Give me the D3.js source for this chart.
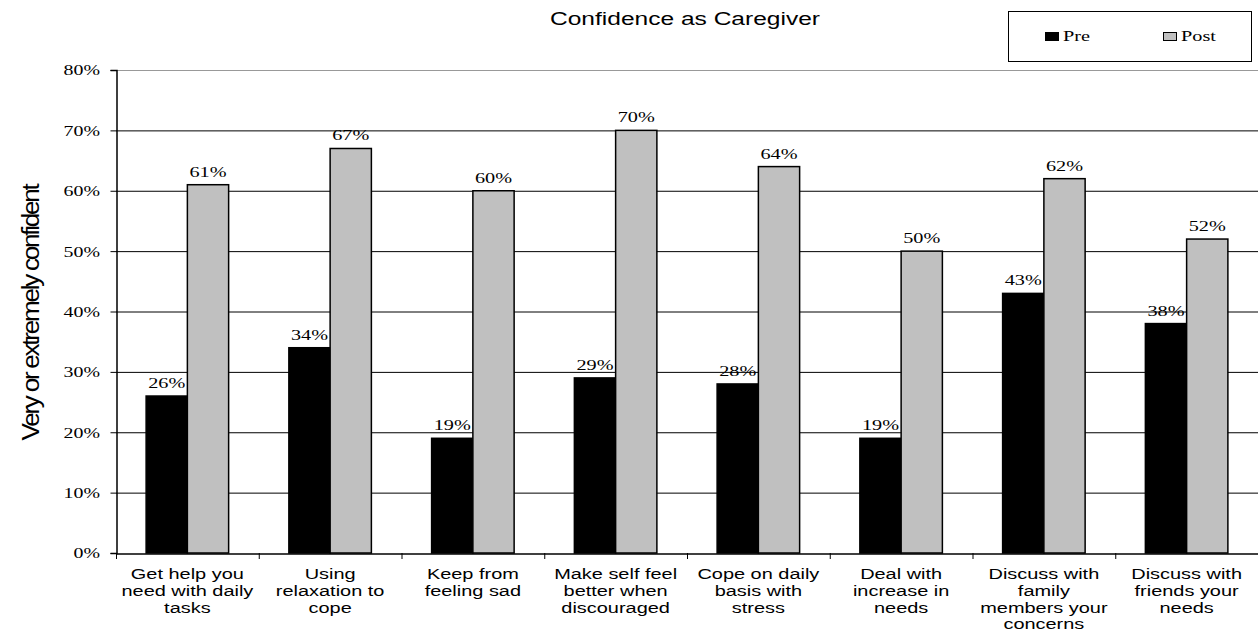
<!DOCTYPE html>
<html><head><meta charset="utf-8">
<script src="https://cdn.jsdelivr.net/npm/d3@7"></script>
<style>body{margin:0;background:#fff}svg{display:block}</style>
</head><body>
<svg id="c" width="1258" height="632"></svg>
<script>
const categories = [
  ["Get help you","need with daily","tasks"],
  ["Using","relaxation to","cope"],
  ["Keep from","feeling sad"],
  ["Make self feel","better when","discouraged"],
  ["Cope on daily","basis with","stress"],
  ["Deal with","increase in","needs"],
  ["Discuss with","family","members your","concerns"],
  ["Discuss with","friends your","needs"]
];
const seriesNames = ["Pre","Post"];
const preValues = [26,34,19,29,28,19,43,38];
const postValues = [61,67,60,70,64,50,62,52];
const yTicks = [0,10,20,30,40,50,60,70,80];
const colors = {Pre:"#000000", Post:"#c0c0c0"};

const SERIF = "'Liberation Serif','Times New Roman',serif";
const SANS = "'Liberation Sans',Arial,sans-serif";
function hStretch(sel, sx){
  sel.each(function(){
    const t = d3.select(this);
    const cx = +t.attr("x") || 0;
    t.attr("transform",`translate(${cx},0) scale(${sx},1) translate(${-cx},0)`);
  });
}

const svg = d3.select("#c");
const pLeft = 116, pRight = 1258, pTop = 70, pBottom = 553;
const x = d3.scaleBand().domain(d3.range(categories.length)).range([pLeft,pRight]).paddingInner(0).paddingOuter(0);
const inner = d3.scaleBand().domain(seriesNames).range([0,x.bandwidth()]).paddingInner(0).paddingOuter(0.73);
const y = d3.scaleLinear().domain([0,80]).range([pBottom,pTop]);

// gridlines
svg.append("g").selectAll("line").data(yTicks.filter(d=>d>0)).join("line")
  .attr("x1",pLeft).attr("x2",pRight).attr("y1",d=>y(d)+0.5).attr("y2",d=>y(d)+0.5)
  .attr("stroke",d=>d===80?"#999":"#000").attr("stroke-width",1);

// y axis
const yAxis = d3.axisLeft(y).tickValues(yTicks).tickSize(6).tickFormat(d=>d+"%");
const gy = svg.append("g").attr("transform",`translate(${pLeft+0.5},0)`).call(yAxis);
gy.select(".domain").attr("stroke","#000").attr("stroke-width",1.5);
gy.selectAll(".tick line").attr("stroke","#000");
gy.selectAll(".tick text").attr("font-family",SERIF).attr("font-size",14).attr("fill","#000").attr("x",-16.5).attr("dy","0.35em");
hStretch(gy.selectAll(".tick text"), 1.42);

// x axis
const xAxis = d3.axisBottom(x).tickSize(0).tickFormat("");
const gx = svg.append("g").attr("transform",`translate(0,${pBottom+0.5})`).call(xAxis);
gx.select(".domain").attr("stroke","#000").attr("stroke-width",1.5);
gx.selectAll(".tick").remove();
svg.append("g").selectAll("line").data(d3.range(categories.length)).join("line")
  .attr("x1",d=>x(d)+0.5).attr("x2",d=>x(d)+0.5).attr("y1",pBottom).attr("y2",pBottom+6)
  .attr("stroke","#000");

// bars
const data = [];
categories.forEach((c,i)=>{
  data.push({i, s:"Pre", v:preValues[i]});
  data.push({i, s:"Post", v:postValues[i]});
});
svg.append("g").selectAll("rect").data(data).join("rect")
  .attr("x",d=>x(d.i)+inner(d.s))
  .attr("width",inner.bandwidth())
  .attr("y",d=>y(d.v))
  .attr("height",d=>y(0)-y(d.v))
  .attr("fill",d=>colors[d.s])
  .attr("stroke","#000").attr("stroke-width",1.5);

// value labels
const vl = svg.append("g").selectAll("text").data(data).join("text")
  .attr("x",d=>x(d.i)+inner(d.s)+inner.bandwidth()/2)
  .attr("y",d=>y(d.v)-8)
  .attr("text-anchor","middle")
  .attr("font-family",SERIF)
  .attr("font-size",15).attr("fill","#000")
  .text(d=>d.v+"%");
hStretch(vl, 1.35);

// category labels
const cl = svg.append("g").selectAll("text").data(categories).join("text")
  .attr("x",(d,i)=>x(i)+x.bandwidth()/2)
  .attr("text-anchor","middle")
  .attr("font-family",SANS)
  .attr("font-size",15).attr("fill","#000");
cl.each(function(lines,i){
  d3.select(this).selectAll("tspan").data(lines).join("tspan")
    .attr("x",x(i)+x.bandwidth()/2)
    .attr("y",(d,k)=>579+k*16.8)
    .text(d=>d);
});
hStretch(cl, 1.33);

// title
svg.append("text").attr("x",685).attr("y",25).attr("text-anchor","middle")
  .attr("font-family",SANS).attr("font-size",17.5)
  .attr("textLength",270).attr("lengthAdjust","spacingAndGlyphs")
  .text("Confidence as Caregiver");

// y title
svg.append("text").attr("transform","translate(39,313) rotate(-90)")
  .attr("text-anchor","middle")
  .attr("font-family",SANS).attr("font-size",23).attr("letter-spacing","-2px")
  .attr("textLength",255).attr("lengthAdjust","spacingAndGlyphs")
  .text("Very or extremely confident");

// legend
const lg = svg.append("g");
lg.append("rect").attr("x",1008.5).attr("y",11.5).attr("width",243).attr("height",50)
  .attr("fill","#fff").attr("stroke","#000").attr("stroke-width",1);
const lx = [1045,1163];
seriesNames.forEach((s,k)=>{
  lg.append("rect").attr("x",lx[k]+0.5).attr("y",32.5).attr("width",13).attr("height",8)
    .attr("fill",colors[s]).attr("stroke","#000").attr("stroke-width",1);
  const t = lg.append("text").attr("x",lx[k]+18).attr("y",41)
    .attr("font-family",SERIF).attr("font-size",14)
    .text(s);
  hStretch(t, 1.45);
});
</script>
</body></html>
